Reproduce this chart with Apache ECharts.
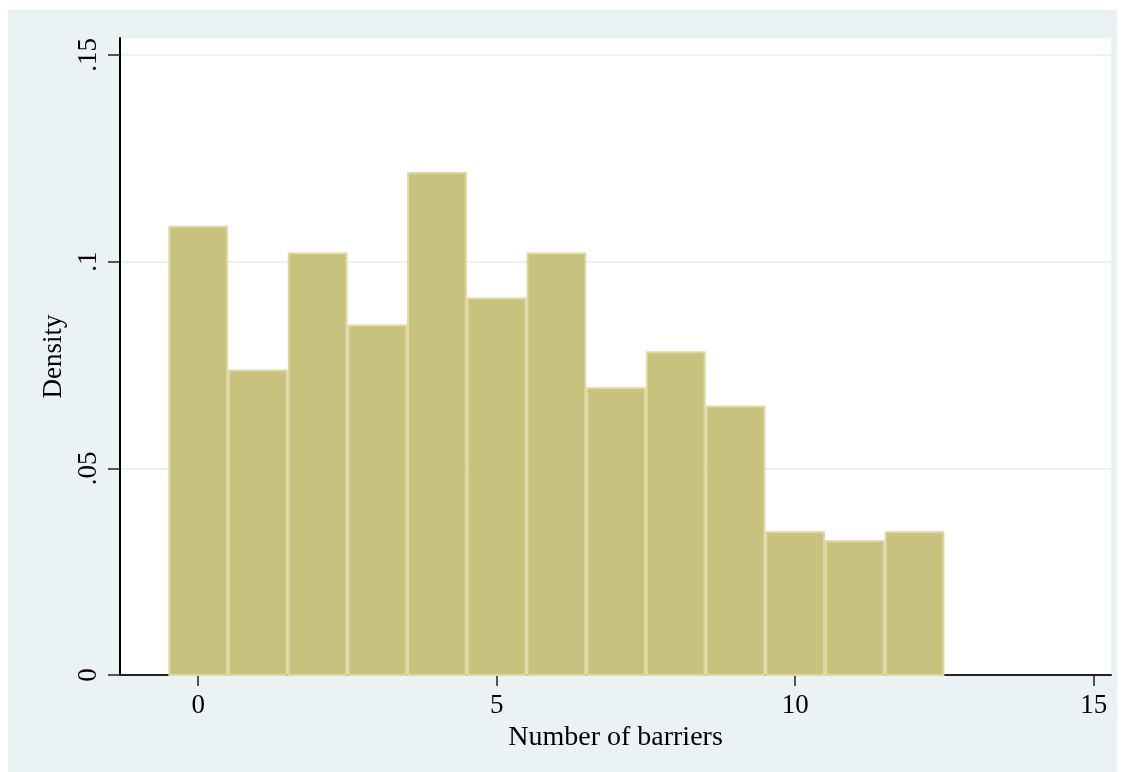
<!DOCTYPE html>
<html>
<head>
<meta charset="utf-8">
<script src="https://cdn.jsdelivr.net/npm/echarts@6/dist/echarts.min.js"></script>
<style>
  html, body { margin: 0; padding: 0; background: #ffffff; }
  #chart { width: 1125px; height: 772px; }
</style>
</head>
<body>
<div id="chart"></div>
<script>
// Histogram of barrier counts (bin width 1, centred on integers)
const binCenters = [0, 1, 2, 3, 4, 5, 6, 7, 8, 9, 10, 11, 12];
const densities = [0.1087, 0.0739, 0.1022, 0.0848, 0.1217, 0.0913, 0.1022,
                   0.0696, 0.0783, 0.0652, 0.0348, 0.0326, 0.0348];
const xTicks = [0, 5, 10, 15];
const yTicks = [0, 0.05, 0.1, 0.15];
const binWidth = 1;

const serif = '"Liberation Serif", "DejaVu Serif", serif';

const chart = echarts.init(document.getElementById('chart'));

const barData = binCenters.map((c, i) => [c, densities[i]]);

chart.setOption({
  backgroundColor: '#ffffff',
  animation: false,
  graphic: [{
    type: 'rect',
    z: -10,
    shape: { x: 8, y: 10, width: 1109, height: 762 },
    style: { fill: '#eaf2f3' }
  }],
  grid: {
    left: 120, right: 14, top: 38, bottom: 97,
    show: true, backgroundColor: '#ffffff', borderWidth: 0
  },
  xAxis: {
    type: 'value',
    min: -1.31, max: 15.29,
    name: 'Number of barriers',
    nameLocation: 'middle',
    nameGap: 40,
    nameTextStyle: { fontFamily: serif, fontSize: 28, color: '#000' },
    axisLine: { show: true, onZero: false, lineStyle: { color: '#222', width: 2 } },
    axisTick: { show: true, length: 11, customValues: xTicks, lineStyle: { color: '#222', width: 1.5 } },
    axisLabel: {
      customValues: xTicks, margin: 17,
      fontFamily: serif, fontSize: 27, color: '#000'
    },
    splitLine: { show: false }
  },
  yAxis: {
    type: 'value',
    min: 0, max: 0.1541,
    interval: 0.05,
    name: 'Density',
    nameLocation: 'middle',
    nameGap: 51,
    nameRotate: 90,
    nameTextStyle: { fontFamily: serif, fontSize: 27, color: '#000' },
    axisLine: { show: true, onZero: false, lineStyle: { color: '#000', width: 2 } },
    axisTick: { show: true, length: 12, customValues: yTicks, lineStyle: { color: '#222', width: 1.5 } },
    axisLabel: {
      customValues: yTicks,
      rotate: 90, margin: 18,
      fontFamily: serif, fontSize: 27, color: '#000',
      formatter: v => v === 0 ? '0' : String(v).replace(/^0/, '')
    },
    splitLine: { show: true, lineStyle: { color: '#eaf2f3', width: 2 } }
  },
  series: [{
    type: 'custom',
    data: barData,
    encode: { x: 0, y: 1 },
    renderItem: function (params, api) {
      const c = api.value(0);
      const h = api.value(1);
      const p0 = api.coord([c - binWidth / 2, h]);
      const p1 = api.coord([c + binWidth / 2, 0]);
      return {
        type: 'rect',
        shape: { x: p0[0] + 1, y: p0[1] + 1, width: p1[0] - p0[0] - 2, height: p1[1] - p0[1] - 1 },
        style: { fill: '#c9c27e', stroke: '#ddd8a3', lineWidth: 2 }
      };
    }
  }]
});
</script>
</body>
</html>
